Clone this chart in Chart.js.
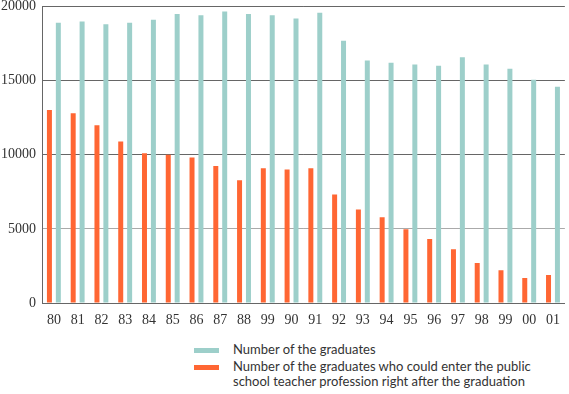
<!DOCTYPE html>
<html>
<head>
<meta charset="utf-8">
<script src="https://cdn.jsdelivr.net/npm/chart.js@4"></script>
<style>
  body { margin: 0; background: #fff; }
  #wrap { position: relative; width: 569px; height: 394px; overflow: hidden; }
  #box { position: absolute; left: 0; top: -8px; width: 569px; height: 338px; }
  .legend { position: absolute; left: 194px; font-family: Lato, sans-serif; font-size: 13px; color: #333; line-height: 15px; }
  .sw { position: absolute; left: 0; width: 25px; height: 5px; }
  .txt { position: absolute; left: 39px; white-space: nowrap; }
</style>
</head>
<body>
<div id="wrap">
  <div id="box"><canvas id="chart"></canvas></div>
  <div class="legend" style="top:342px">
    <div class="sw" style="top:6px;background:#9dcfca"></div>
    <div class="txt" style="top:0">Number of the graduates</div>
  </div>
  <div class="legend" style="top:359px">
    <div class="sw" style="top:6px;background:#ff6633"></div>
    <div class="txt" style="top:0">Number of the graduates who could enter the public<br>school teacher profession right after the graduation</div>
  </div>
</div>
<script>
const years = ["80","81","82","83","84","85","86","87","88","99","90","91","92","93","94","95","96","97","98","99","00","01"]
const graduates = [18900,18990,18790,18900,19100,19480,19400,19660,19480,19400,19190,19580,17690,16360,16200,16090,16000,16570,16090,15800,15060,14590]
const hired = [13020,12790,11990,10890,10100,9990,9810,9230,8280,9090,9000,9090,7320,6310,5790,4980,4310,3620,2690,2200,1680,1890]
const yTicks = [0,5000,10000,15000,20000]

Chart.defaults.font.family = "'Liberation Serif', 'DejaVu Serif', serif"
Chart.defaults.font.size = 14
Chart.defaults.color = "#333"

const ctx = document.getElementById("chart").getContext("2d")
const mainChart = new Chart(ctx, {
  type: "bar",
  data: {
    labels: years,
    datasets: [{
      label: "Number of the graduates who could enter the public school teacher profession right after the graduation",
      data: hired,
      backgroundColor: "#ff6633",
      borderWidth: 0
    }, {
      label: "Number of the graduates",
      data: graduates,
      backgroundColor: "#9dcfca",
      borderWidth: 0
    }]
  },
  options: {
    responsive: true,
    maintainAspectRatio: false,
    animation: false,
    categoryPercentage: 0.75,
    barPercentage: 0.56,
    layout: { padding: { top: 0, right: 1, left: 0, bottom: 0 } },
    plugins: {
      legend: { display: false },
      tooltip: { enabled: false }
    },
    scales: {
      x: {
        grid: { display: false, drawTicks: false },
        border: { color: "#666" },
        ticks: { padding: 9 },
        afterFit: (s) => { s.height = 27 }
      },
      y: {
        min: 0,
        max: 20000,
        afterBuildTicks: (s) => { s.ticks = yTicks.map(v => ({ value: v })) },
        grid: {
          drawTicks: false,
          color: (c) => c.tick && c.tick.value === 5000 ? "#aaa" : "#666"
        },
        border: { color: "#666" },
        ticks: { padding: 6, callback: (v) => String(v) },
        afterFit: (s) => { s.width = 42 }
      }
    }
  }
})
</script>
</body>
</html>
